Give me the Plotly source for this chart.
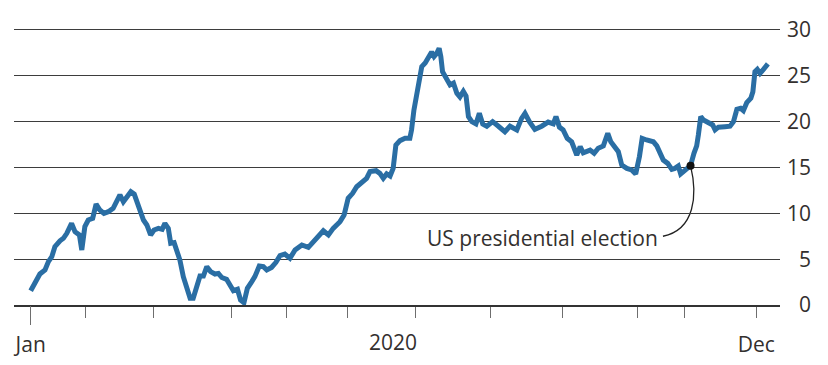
import plotly.graph_objects as go

# Trading-session index (0 = first session of January) and index level
days = [
    0, 1.3, 2.7, 4.2, 5.2, 6.2, 7.1, 8.6, 9.6, 10.6, 12.0, 13.0, 14.3, 15.0, 15.9,
    16.9, 18.2, 19.2, 20.3, 21.5, 22.8, 24.2, 25.2, 26.2, 27.2, 28.2, 29.4, 30.4,
    31.3, 32.1, 33.1, 34.1, 35.2, 36.2, 37.5, 38.6, 39.4, 40.4, 41.1, 42.1, 42.9,
    43.8, 44.8, 45.8, 46.8, 47.7, 48.7, 49.7, 50.7, 51.7, 52.8, 54.1, 55.1, 56.1,
    57.5, 58.5, 59.5, 60.7, 61.6, 62.6, 63.6, 64.9, 65.8, 67.1, 68.3, 69.3, 70.7,
    72.0, 73.2, 74.6, 76.1, 77.6, 79.6, 81.5, 83.0, 84.4, 85.9, 87.4, 88.8, 90.8,
    92.0, 93.2, 94.5, 95.7, 97.2, 98.6, 99.6, 101.4, 102.5, 103.5, 104.5, 105.5,
    106.4, 107.2, 108.4, 109.9, 111.3, 111.8, 112.5, 113.8, 114.8, 115.8, 116.9,
    117.7, 118.4, 119.2, 119.9, 120.4, 120.9, 121.9, 123.1, 124.1, 125.1, 126.0,
    127.0, 127.8, 128.5, 129.5, 130.7, 131.7, 132.7, 133.9, 135.6, 137.3, 139.2,
    140.7, 142.7, 144.1, 145.1, 146.4, 148.0, 150.0, 151.9, 153.4, 154.2, 155.2,
    156.3, 157.5, 158.8, 160.3, 161.3, 162.2, 164.2, 165.4, 166.6, 168.1, 169.4,
    170.3, 171.5, 172.5, 173.5, 175.0, 176.4, 177.6, 178.7, 179.5, 180.8, 182.8,
    183.8, 184.7, 185.7, 187.0, 188.2, 189.1, 190.1, 190.8, 191.8, 192.7, 193.7,
    194.7, 195.5, 196.0, 196.7, 197.5, 198.9, 200.2, 200.9, 201.9, 203.8, 205.3,
    206.3, 207.3, 208.4, 209.2, 210.2, 211.4, 212.0, 212.6, 213.3, 214.1, 215.1,
    216.4,
]
values = [
    1.56, 2.36, 3.38, 3.82, 4.73, 5.27, 6.36, 7.0, 7.27, 7.82, 8.9, 8.0, 7.64, 6.0, 8.55,
    9.27, 9.45, 11.0, 10.36, 10.0, 10.18, 10.55, 11.27, 12.0, 11.27, 11.8, 12.36, 12.1,
    11.1, 10.36, 9.27, 8.73, 7.64, 8.18, 8.36, 8.25, 8.9, 8.36, 6.73, 6.8, 6.0,
    4.9, 3.09, 1.64, 0.73, 0.73, 2.0, 3.16, 3.16, 4.18, 3.64, 3.38, 3.45, 3.0,
    2.8, 2.18, 1.56, 1.71, 0.55, 0.25, 1.82, 2.55, 3.09, 4.25, 4.18, 3.82, 4.1,
    4.65, 5.4, 5.56, 5.09, 6.0, 6.55, 6.29, 6.9, 7.64, 8.1, 7.64, 8.36, 9.09,
    9.82, 11.64, 12.18, 12.9, 13.45, 13.82, 14.55, 14.65, 14.36, 13.82, 14.3, 14.07,
    14.9, 17.45, 17.93, 18.18, 18.18, 19.1, 21.27, 23.8, 26.0, 26.4, 27.1,
    27.6, 27.1, 27.45, 28.0, 27.1, 25.45, 24.9, 24.0, 24.2, 23.1, 22.7,
    23.3, 22.8, 20.55, 20.0, 19.75, 20.9, 19.75, 19.5, 20.0, 19.5, 18.9,
    19.5, 19.1, 20.36, 20.9, 20.0, 19.16, 19.5, 19.95, 19.75, 20.55, 19.4,
    19.1, 18.18, 17.8, 16.36, 17.27, 16.6, 16.9, 16.55, 17.1, 17.35, 18.73,
    17.8, 17.27, 16.73, 15.27, 14.9, 14.73, 14.3, 16.2, 18.18, 18.0, 17.8,
    17.35, 16.73, 15.8, 15.45, 14.8, 14.9, 15.16, 14.3, 14.65, 14.9, 15.2,
    16.55, 17.35, 18.55, 20.55, 20.18, 19.9, 19.64, 19.1, 19.4, 19.45, 19.5,
    20.0, 21.35, 21.45, 21.2, 22.07, 22.55, 23.27, 25.45, 25.7, 25.27, 25.7,
    26.3,
]

# First session of each month
month_ticks = [0, 16, 36, 59, 75, 93, 113, 135, 156, 178, 192, 213]
month_labels = ["Jan", "", "", "", "", "", "", "", "", "", "", "Dec"]
year_label = "2020"
year_label_pos = 106.4

y_ticks = [0, 5, 10, 15, 20, 25, 30]
y_labels = ["\u20070", "\u20075", "10", "15", "20", "25", "30"]

election_label = "US presidential election"
election_day = 193.7
election_value = 15.2

LINE_BLUE = "#2a6ea4"
TEXT = "#33302e"
FONT = "Open Sans"
FONT_SIZE = 21

fig = go.Figure()

fig.add_trace(go.Scatter(
    x=days, y=values, mode="lines",
    line=dict(color=LINE_BLUE, width=5),
    hoverinfo="skip", showlegend=False,
))

fig.add_trace(go.Scatter(
    x=[election_day], y=[election_value], mode="markers",
    marker=dict(color="#111111", size=8),
    xaxis="x2", hoverinfo="skip", showlegend=False,
))

# Curved leader from the election point down to its label
ex, ey = election_day, election_value
leader = (
    f"M {ex},{ey} "
    f"C {ex + 2.1},{ey - 3.2} {ex + 1.3},{ey - 7.0} {ex - 8.1},{ey - 7.7}"
)
fig.add_shape(type="path", path=leader, xref="x", yref="y",
              line=dict(color="#222222", width=1.3), layer="below")

fig.add_annotation(
    x=ex, y=ey, xref="x", yref="y", text=election_label, showarrow=False,
    xanchor="right", yanchor="middle", xshift=-31, yshift=-72,
    font=dict(family=FONT, size=FONT_SIZE, color=TEXT),
)

fig.add_annotation(
    x=year_label_pos, y=0, xref="x", yref="paper", text=year_label,
    showarrow=False, xanchor="center", yanchor="top", yshift=-21,
    font=dict(family=FONT, size=FONT_SIZE, color=TEXT),
)

fig.update_layout(
    width=828, height=365,
    template="none",
    paper_bgcolor="white", plot_bgcolor="white",
    margin=dict(l=14, r=48, t=24, b=60, autoexpand=False),
    font=dict(family=FONT, size=FONT_SIZE, color=TEXT),
    showlegend=False,
    xaxis=dict(
        range=[-4.9, 219.96],
        tickmode="array", tickvals=month_ticks, ticktext=month_labels,
        ticks="outside", ticklen=11, tickwidth=1.3, tickcolor="#6e6e6e",
        showgrid=False, zeroline=False,
        showline=True, linecolor="#333333", linewidth=1.5,
        ticklabelstandoff=9,
        tickfont=dict(family=FONT, size=FONT_SIZE, color=TEXT),
    ),
    xaxis2=dict(
        overlaying="x", matches="x", anchor="y",
        tickmode="array", tickvals=[month_ticks[0]],
        ticks="outside", ticklen=19, tickwidth=1.3, tickcolor="#6e6e6e",
        showticklabels=False, showgrid=False, zeroline=False, showline=False,
    ),
    yaxis=dict(
        range=[0, 30.65], side="right",
        tickmode="array", tickvals=y_ticks, ticktext=y_labels,
        ticks="", showgrid=True, gridcolor="#3d3d3d", gridwidth=1,
        zeroline=False, showline=False,
        ticklabelstandoff=6,
        tickfont=dict(family=FONT, size=FONT_SIZE, color=TEXT),
    ),
)

fig.write_html("out.html")
